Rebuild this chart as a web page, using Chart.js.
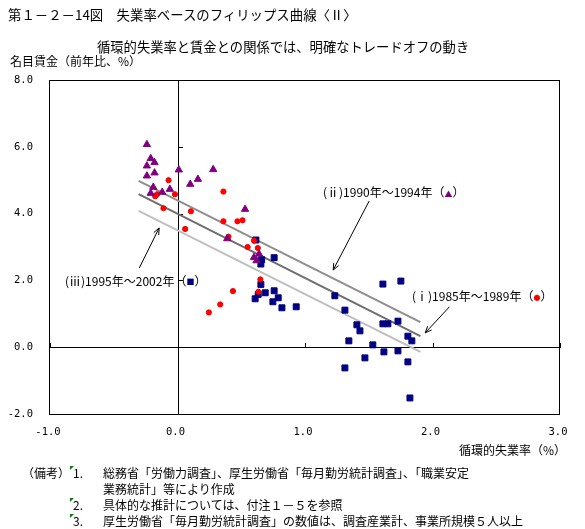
<!DOCTYPE html>
<html><head><meta charset="utf-8">
<script src="https://cdn.jsdelivr.net/npm/chart.js@4.4.1/dist/chart.umd.min.js"></script>
<style>
html,body{margin:0;padding:0;background:#fff;}
#wrap{position:relative;width:585px;height:529px;overflow:hidden;font-family:"Noto Sans CJK JP",sans-serif;color:#000;}
#c{position:absolute;left:0;top:0;}
.t{position:absolute;white-space:nowrap;font-size:12px;line-height:1;}
.g{position:absolute;width:0;height:0;border-top:4px solid #008000;border-right:4px solid transparent;}
</style></head><body>
<div id="wrap">
<canvas id="c" width="585" height="529" style="width:585px;height:529px"></canvas>
<div class="t" style="left:8px;top:8px;font-size:13.4px">第１－２－14図　失業率ベースのフィリップス曲線〈Ⅱ〉</div>
<div class="t" style="left:97px;top:40px;font-size:13.3px">循環的失業率と賃金との関係では、明確なトレードオフの動き</div>
<div class="t" style="left:10px;top:55px">名目賃金（前年比、%）</div>
<div class="t" style="right:19px;top:444px">循環的失業率（%）</div>
<div class="t" style="left:323px;top:186px">(ⅱ)1990年～1994年（<span style="color:#800080;font-size:8px">▲</span>）</div>
<div class="t" style="left:412px;top:290px">(ⅰ)1985年～1989年（<span style="color:#ff0000;font-size:7px;vertical-align:1px">●</span>）</div>
<div class="t" style="left:65px;top:275px">(ⅲ)1995年～2002年（<span style="color:#000080;font-size:8px;vertical-align:1px">■</span>）</div>
<div class="t" style="left:22px;top:467px">（備考）</div>
<div class="g" style="left:70px;top:466px"></div>
<div class="t" style="left:73px;top:467px">1.</div>
<div class="t" style="left:103px;top:467px">総務省「労働力調査」、厚生労働省「毎月勤労統計調査」、「職業安定</div>
<div class="t" style="left:103px;top:483px">業務統計」等により作成</div>
<div class="g" style="left:70px;top:498px"></div>
<div class="t" style="left:73px;top:499px">2.</div>
<div class="t" style="left:103px;top:499px">具体的な推計については、付注１－５を参照</div>
<div class="g" style="left:70px;top:514px"></div>
<div class="t" style="left:73px;top:515px">3.</div>
<div class="t" style="left:103px;top:515px">厚生労働省「毎月勤労統計調査」の数値は、調査産業計、事業所規模５人以上</div>
</div>
<script>
// axis ticks
const xTicks = [-1, 0, 1, 2, 3];
const yTicks = [-2, 0, 2, 4, 6, 8];

// (i) 1985-1989 : cyclical unemployment rate / nominal wage growth
const u8589 = [-0.07,-0.16,-0.175,-0.02,-0.11,0.105,0.36,0.36,0.47,0.51,0.06,0.40,0.55,0.60,0.63,0.65,0.635,0.435,0.335,0.246];
const w8589 = [5.00,4.58,4.52,4.58,4.16,4.07,4.66,3.77,3.77,3.80,3.54,3.31,3.00,3.19,2.97,2.03,1.66,1.68,1.28,1.04];

// (ii) 1990-1994
const u9094 = [-0.24,-0.21,-0.18,-0.24,-0.18,-0.24,0.01,0.28,0.16,0.10,-0.19,-0.06,-0.21,-0.12,0.53,0.39,0.60,0.64,0.62];
const w9094 = [6.07,5.65,5.53,5.43,5.22,5.13,5.31,5.32,5.03,4.88,4.79,4.73,4.61,4.64,4.13,3.25,2.69,2.79,2.59];

// (iii) 1995-2002
const u9502 = [0.615,0.758,0.654,0.66,0.654,0.758,0.688,0.633,0.609,0.790,0.748,0.819,0.931,1.611,1.752,1.234,1.313,1.407,1.431,1.611,1.650,1.729,1.807,1.838,1.344,1.532,1.619,1.729,1.470,1.807,1.313,1.823];
const w9502 = [3.21,2.68,2.49,2.62,1.88,1.69,1.63,1.58,1.45,1.48,1.36,1.18,1.21,1.89,1.98,1.54,1.11,0.67,0.49,0.70,0.70,0.78,0.33,0.19,0.19,0.07,-0.14,-0.11,-0.32,-0.44,-0.62,-1.52];

// fitted lines (endpoints)
const fitX = [-0.305, 1.905];
const fit8589 = [4.98, 0.75];
const fit9094 = [4.58, 0.33];
const fit9502 = [4.08, -0.14];

// annotation arrows: [fromX, fromY, toX, toY]
const arrowII  = [1.503, 4.375, 1.221, 2.31];
const arrowI   = [2.133, 1.21, 1.943, 0.43];
const arrowIII = [-0.30, 2.37, -0.144, 3.57];

const pts = (xs, ys) => xs.map((v, i) => ({x: v, y: ys[i]}));

const framePlugin = {
  id: 'frame',
  beforeDatasetsDraw(chart) {
    const {ctx, chartArea: a, scales: {x, y}} = chart;
    ctx.save();
    ctx.fillStyle = '#000';
    const x0 = Math.round(x.getPixelForValue(0));
    const y0 = Math.round(y.getPixelForValue(0));
    const L = Math.round(a.left), R = Math.round(a.right), T = Math.round(a.top), B = Math.round(a.bottom);
    ctx.fillRect(x0, T, 1, B - T);
    ctx.fillRect(L, y0, R - L, 1);
    yTicks.forEach(v => { const p = Math.round(y.getPixelForValue(v)); ctx.fillRect(x0, p, 5, 1); });
    xTicks.forEach(v => { const p = Math.round(x.getPixelForValue(v)); ctx.fillRect(p, y0 - 4, 1, 5); });
    ctx.restore();
  },
  afterDraw(chart) {
    const {ctx, chartArea: a, scales: {x, y}} = chart;
    ctx.save();
    ctx.fillStyle = '#000';
    const L = Math.round(a.left), R = Math.round(a.right), T = Math.round(a.top), B = Math.round(a.bottom);
    ctx.fillRect(L - 1, T, R - L + 1, 1);
    ctx.fillRect(L - 1, B, R - L + 1, 1);
    ctx.fillRect(L - 1, T, 1, B - T + 1);
    ctx.fillRect(R - 1, T, 1, B - T + 1);
    ctx.strokeStyle = '#000';
    ctx.lineWidth = 1;
    [arrowII, arrowI, arrowIII].forEach(ar => {
      const x1 = x.getPixelForValue(ar[0]), y1 = y.getPixelForValue(ar[1]);
      const x2 = x.getPixelForValue(ar[2]), y2 = y.getPixelForValue(ar[3]);
      const ang = Math.atan2(y2 - y1, x2 - x1);
      const hl = 7, ha = 0.4;
      ctx.beginPath();
      ctx.moveTo(x1, y1); ctx.lineTo(x2, y2);
      ctx.moveTo(x2 - hl * Math.cos(ang - ha), y2 - hl * Math.sin(ang - ha));
      ctx.lineTo(x2, y2);
      ctx.lineTo(x2 - hl * Math.cos(ang + ha), y2 - hl * Math.sin(ang + ha));
      ctx.stroke();
    });
    ctx.restore();
  }
};

const lineDs = (ys, color) => ({
  type: 'line', data: pts(fitX, ys), borderColor: color, borderWidth: 2,
  pointRadius: 0, fill: false, order: 5, showLine: true
});

new Chart(document.getElementById('c'), {
  type: 'scatter',
  data: {
    datasets: [
      lineDs(fit8589, '#8e8e8e'),
      lineDs(fit9094, '#6e6e6e'),
      lineDs(fit9502, '#bfbfbf'),
      { label: '1995-2002', data: pts(u9502, w9502), pointStyle: 'rect', pointRadius: 4.2,
        backgroundColor: '#000080', borderColor: '#000080', borderWidth: 1, order: 3 },
      { label: '1985-1989', data: pts(u8589, w8589), pointStyle: 'circle', pointRadius: 2.6,
        backgroundColor: '#ff0000', borderColor: '#ff0000', borderWidth: 1, order: 2 },
      { label: '1990-1994', data: pts(u9094, w9094), pointStyle: 'triangle', pointRadius: 4.2,
        backgroundColor: '#800080', borderColor: '#800080', borderWidth: 1, order: 1 }
    ]
  },
  options: {
    responsive: false,
    animation: false,
    events: [],
    layout: { padding: { left: 0, top: 80, right: 25, bottom: 0 } },
    plugins: { legend: { display: false }, tooltip: { enabled: false }, title: { display: false } },
    scales: {
      x: {
        type: 'linear', min: xTicks[0], max: xTicks[xTicks.length - 1],
        afterBuildTicks: s => { s.ticks = xTicks.map(v => ({value: v})); },
        afterFit: s => { s.height = 115; },
        grid: { display: false, drawTicks: false },
        border: { display: false },
        ticks: { callback: v => Number(v).toFixed(1), color: '#000', padding: 12, labelOffset: -2,
                 maxRotation: 0, autoSkip: false, font: { family: 'DejaVu Sans Mono', size: 10.5 } }
      },
      y: {
        type: 'linear', min: yTicks[0], max: yTicks[yTicks.length - 1],
        afterBuildTicks: s => { s.ticks = yTicks.map(v => ({value: v})); },
        afterFit: s => { s.width = 50; },
        grid: { display: false, drawTicks: false },
        border: { display: false },
        ticks: { callback: v => Number(v).toFixed(1), color: '#000', padding: 17,
                 font: { family: 'DejaVu Sans Mono', size: 10.5 } }
      }
    }
  },
  plugins: [framePlugin]
});
</script>
</body></html>
